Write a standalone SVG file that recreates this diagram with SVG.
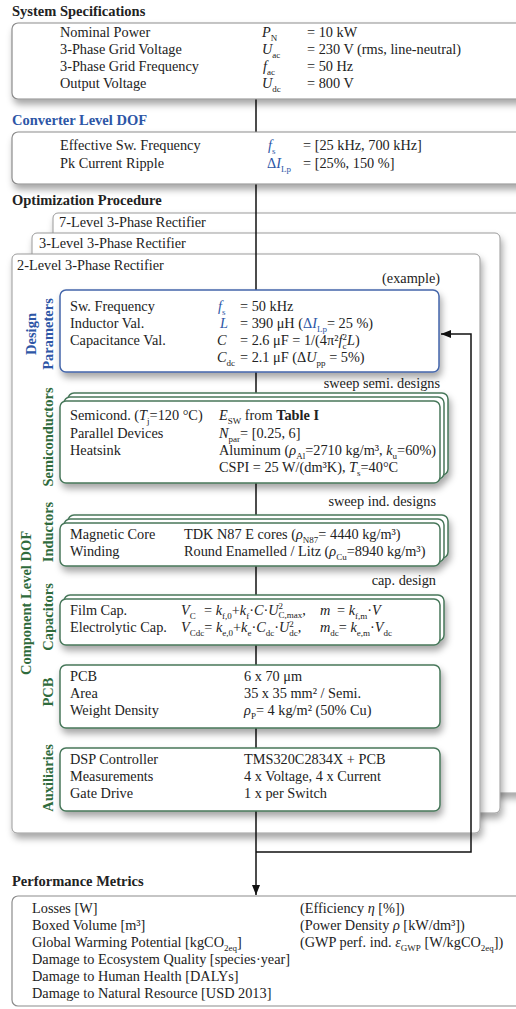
<svg xmlns="http://www.w3.org/2000/svg" width="516" height="1009" viewBox="0 0 516 1009">
<style>
.t{font-family:"Liberation Serif","Times New Roman",serif;font-size:14.3px;fill:#222}
.h{font-weight:bold;font-size:14.5px}
.v{font-weight:bold;font-size:14.5px}
.i{font-style:italic}
.s{font-size:9px;font-style:normal}
.blue{fill:#2d56a6}
.green{fill:#2f6b3c}
.box{fill:#fff;stroke:#8c8c8c;stroke-width:1.2}
.rect{fill:#fff;stroke:#9a9a9a;stroke-width:1}
.dbox{fill:#fff;stroke:#4466aa;stroke-width:1.5}
.gbox{fill:#fff;stroke:#47775a;stroke-width:1.5}
.ln{fill:none;stroke:#111;stroke-width:1.5}
</style>
<defs>
<filter id="sh" x="-5%" y="-10%" width="115%" height="135%">
<feDropShadow dx="2" dy="5" stdDeviation="3.5" flood-color="#000" flood-opacity="0.35"/>
</filter>
<marker id="arr" viewBox="0 0 10 10" refX="10" refY="5" markerWidth="10" markerHeight="10" orient="auto" markerUnits="userSpaceOnUse">
<path d="M0,1 L10,5 L0,9 z" fill="#111"/>
</marker>
</defs>
<rect width="516" height="1009" fill="#fff"/>

<g id="rectifier-7level">
<rect class="rect" x="53" y="213" width="480" height="580" rx="5" filter="url(#sh)"/>
<text class="t" x="59" y="227">7-Level 3-Phase Rectifier</text>
</g>
<g id="rectifier-3level">
<rect class="rect" x="32" y="233" width="468" height="580" rx="5" filter="url(#sh)"/>
<text class="t" x="39" y="248">3-Level 3-Phase Rectifier</text>
</g>
<g id="rectifier-2level">
<rect class="rect" x="12" y="254" width="468" height="579" rx="5" filter="url(#sh)"/>
<text class="t" x="17" y="270">2-Level 3-Phase Rectifier</text>
<text class="t" x="440" y="283" text-anchor="end">(example)</text>
<text class="t v green" transform="translate(31,603) rotate(-90)" text-anchor="middle">Component Level DOF</text>
<text class="t" x="440" y="388" text-anchor="end">sweep semi. designs</text>
<text class="t" x="436" y="506" text-anchor="end">sweep ind. designs</text>
<text class="t" x="436" y="585" text-anchor="end">cap. design</text>
</g>

<g id="connectors">
<path class="ln" d="M256,95 V895" marker-end="url(#arr)"/>
<path class="ln" d="M256,852 H471 V334 H441" marker-end="url(#arr)"/>
</g>

<g id="system-specs">
<text class="t h" x="12" y="16">System Specifications</text>
<rect class="box" x="12" y="23" width="530" height="76" rx="6" filter="url(#sh)"/>
<text class="t" x="60" y="37">Nominal Power</text>
<text class="t" x="60" y="54">3-Phase Grid Voltage</text>
<text class="t" x="60" y="71">3-Phase Grid Frequency</text>
<text class="t" x="60" y="88">Output Voltage</text>
<text class="t i" x="262" y="37">P<tspan class="s" dy="3.5">N</tspan></text>
<text class="t i" x="262" y="54">U<tspan class="s" dy="3.5">ac</tspan></text>
<text class="t i" x="263" y="71">f<tspan class="s" dy="3.5">ac</tspan></text>
<text class="t i" x="262" y="88">U<tspan class="s" dy="3.5">dc</tspan></text>
<text class="t" x="307" y="37">= 10 kW</text>
<text class="t" x="307" y="54">= 230 V (rms, line-neutral)</text>
<text class="t" x="307" y="71">= 50 Hz</text>
<text class="t" x="307" y="88">= 800 V</text>
</g>

<g id="converter-dof">
<text class="t h blue" x="12" y="125">Converter Level DOF</text>
<rect class="box" x="12" y="132" width="530" height="52" rx="6" filter="url(#sh)"/>
<text class="t" x="60" y="150">Effective Sw. Frequency</text>
<text class="t" x="60" y="168">Pk Current Ripple</text>
<text class="t i blue" x="268" y="150">f<tspan class="s" dy="3.5">s</tspan></text>
<text class="t blue" x="267" y="168">Δ<tspan class="i">I</tspan><tspan class="s" dy="3.5">Lp</tspan></text>
<text class="t" x="303" y="150">=  [25 kHz, 700 kHz]</text>
<text class="t" x="303" y="168">=  [25%, 150 %]</text>
</g>

<text class="t h" x="12" y="205">Optimization Procedure</text>

<g id="design-parameters">
<rect class="dbox" x="60" y="290" width="379" height="82" rx="6" filter="url(#sh)"/>
<text class="t v blue" transform="translate(36,334) rotate(-90)" text-anchor="middle">Design</text>
<text class="t v blue" transform="translate(53,334) rotate(-90)" text-anchor="middle">Parameters</text>
<text class="t" x="70" y="311">Sw. Frequency</text>
<text class="t" x="70" y="328">Inductor Val.</text>
<text class="t" x="70" y="345">Capacitance Val.</text>
<text class="t i blue" x="218" y="311">f<tspan class="s" dy="3.5">s</tspan></text>
<text class="t i blue" x="220" y="328">L</text>
<text class="t i" x="217" y="345">C</text>
<text class="t i" x="217" y="362">C<tspan class="s" dy="3.5">dc</tspan></text>
<text class="t" x="240" y="311">= 50 kHz</text>
<text class="t" x="240" y="328">= 390 μH (<tspan class="blue">Δ</tspan><tspan class="blue i">I</tspan><tspan class="s blue" dy="3.5">Lp</tspan><tspan dy="-3.5">= 25 %)</tspan></text>
<text class="t" x="240" y="345">= 2.6 μF = 1/(4π²<tspan class="i">f</tspan><tspan class="s" dy="3.5">c</tspan><tspan class="s" dx="-4" dy="-9">2</tspan><tspan class="i" dy="5.5">L</tspan>)</text>
<text class="t" x="240" y="362">= 2.1 μF (Δ<tspan class="i">U</tspan><tspan class="s" dy="3.5">pp</tspan><tspan dy="-3.5"> = 5%)</tspan></text>
</g>

<g id="semiconductors">
<g filter="url(#sh)">
<rect class="gbox" x="68" y="393" width="380" height="82" rx="6"/>
<rect class="gbox" x="64" y="397" width="380" height="82" rx="6"/>
<rect class="gbox" x="60" y="401" width="380" height="82" rx="6"/>
</g>
<text class="t v green" transform="translate(53,437) rotate(-90)" text-anchor="middle">Semiconductors</text>
<text class="t" x="70" y="420">Semicond. (<tspan class="i">T</tspan><tspan class="s" dy="3.5">j</tspan><tspan dy="-3.5">=120 °C)</tspan></text>
<text class="t" x="70" y="438">Parallel Devices</text>
<text class="t" x="70" y="455">Heatsink</text>
<text class="t" x="219" y="420"><tspan class="i">E</tspan><tspan class="s" dy="3.5">SW</tspan><tspan dy="-3.5"> from </tspan><tspan font-weight="bold">Table I</tspan></text>
<text class="t" x="219" y="438"><tspan class="i">N</tspan><tspan class="s" dy="3.5">par</tspan><tspan dy="-3.5">= [0.25, 6]</tspan></text>
<text class="t" x="219" y="455">Aluminum (<tspan class="i">ρ</tspan><tspan class="s" dy="3.5">Al</tspan><tspan dy="-3.5">=2710 kg/m³, </tspan><tspan class="i">k</tspan><tspan class="s" dy="3.5">u</tspan><tspan dy="-3.5">=60%)</tspan></text>
<text class="t" x="219" y="472">CSPI = 25 W/(dm³K), <tspan class="i">T</tspan><tspan class="s" dy="3.5">s</tspan><tspan dy="-3.5">=40°C</tspan></text>
</g>

<g id="inductors">
<g filter="url(#sh)">
<rect class="gbox" x="68" y="515" width="380" height="43" rx="6"/>
<rect class="gbox" x="64" y="519" width="380" height="43" rx="6"/>
<rect class="gbox" x="60" y="523" width="380" height="43" rx="6"/>
</g>
<text class="t v green" transform="translate(53,532) rotate(-90)" text-anchor="middle">Inductors</text>
<text class="t" x="70" y="539">Magnetic Core</text>
<text class="t" x="70" y="556">Winding</text>
<text class="t" x="184" y="539">TDK N87 E cores (<tspan class="i">ρ</tspan><tspan class="s" dy="3.5">N87</tspan><tspan dy="-3.5">= 4440 kg/m³)</tspan></text>
<text class="t" x="184" y="556">Round Enamelled / Litz (<tspan class="i">ρ</tspan><tspan class="s" dy="3.5">Cu</tspan><tspan dy="-3.5">=8940 kg/m³)</tspan></text>
</g>

<g id="capacitors">
<g filter="url(#sh)">
<rect class="gbox" x="64" y="595" width="380" height="46" rx="6"/>
<rect class="gbox" x="60" y="599" width="380" height="46" rx="6"/>
</g>
<text class="t v green" transform="translate(53,617) rotate(-90)" text-anchor="middle">Capacitors</text>
<text class="t" x="70" y="615">Film Cap.</text>
<text class="t" x="70" y="632">Electrolytic Cap.</text>
<text class="t" x="181" y="615"><tspan class="i">V</tspan><tspan class="s" dy="3.5">C</tspan><tspan x="204" dy="-3.5">= </tspan><tspan class="i">k</tspan><tspan class="s" dy="3.5">f,0</tspan><tspan dy="-3.5">+</tspan><tspan class="i">k</tspan><tspan class="s" dy="3.5">f</tspan><tspan dy="-3.5">·</tspan><tspan class="i">C</tspan><tspan>·</tspan><tspan class="i">U</tspan><tspan class="s" dy="-6">2</tspan><tspan class="s" dx="-4.5" dy="9">C,max</tspan><tspan dy="-3">,</tspan><tspan class="i" x="320">m</tspan><tspan x="337">= </tspan><tspan class="i">k</tspan><tspan class="s" dy="3.5">f,m</tspan><tspan dy="-3.5">·</tspan><tspan class="i">V</tspan></text>
<text class="t" x="181" y="632"><tspan class="i">V</tspan><tspan class="s i" dy="3.5">Cdc</tspan><tspan dy="-3.5">= </tspan><tspan class="i">k</tspan><tspan class="s" dy="3.5">e,0</tspan><tspan dy="-3.5">+</tspan><tspan class="i">k</tspan><tspan class="s" dy="3.5">e</tspan><tspan dy="-3.5">·</tspan><tspan class="i">C</tspan><tspan class="s" dy="3.5">dc</tspan><tspan dy="-3.5">·</tspan><tspan class="i">U</tspan><tspan class="s" dy="-5">2</tspan><tspan class="s" dx="-4.5" dy="8.5">dc</tspan><tspan dy="-3.5">,</tspan><tspan class="i" x="320">m</tspan><tspan class="s i" dy="3.5">dc</tspan><tspan dy="-3.5">= </tspan><tspan class="i">k</tspan><tspan class="s" dy="3.5">e,m</tspan><tspan dy="-3.5">·</tspan><tspan class="i">V</tspan><tspan class="s" dy="3.5">dc</tspan></text>
</g>

<g id="pcb">
<rect class="gbox" x="60" y="665" width="380" height="63" rx="6" filter="url(#sh)"/>
<text class="t v green" transform="translate(53,692) rotate(-90)" text-anchor="middle">PCB</text>
<text class="t" x="70" y="681">PCB</text>
<text class="t" x="70" y="698">Area</text>
<text class="t" x="70" y="715">Weight Density</text>
<text class="t" x="244" y="681">6 x 70 μm</text>
<text class="t" x="244" y="698">35 x 35 mm² / Semi.</text>
<text class="t" x="244" y="715"><tspan class="i">ρ</tspan><tspan class="s" dy="3.5">P</tspan><tspan dy="-3.5">= 4 kg/m² (50% Cu)</tspan></text>
</g>

<g id="auxiliaries">
<rect class="gbox" x="60" y="748" width="380" height="63" rx="6" filter="url(#sh)"/>
<text class="t v green" transform="translate(53,778) rotate(-90)" text-anchor="middle">Auxiliaries</text>
<text class="t" x="70" y="764">DSP Controller</text>
<text class="t" x="70" y="781">Measurements</text>
<text class="t" x="70" y="798">Gate Drive</text>
<text class="t" x="244" y="764">TMS320C2834X + PCB</text>
<text class="t" x="244" y="781">4 x Voltage, 4 x Current</text>
<text class="t" x="244" y="798">1 x per Switch</text>
</g>

<g id="performance-metrics">
<text class="t h" x="12" y="886">Performance Metrics</text>
<rect class="box" x="12" y="896" width="530" height="110" rx="6"/>
<text class="t" x="32" y="913">Losses [W]</text>
<text class="t" x="32" y="930">Boxed Volume [m³]</text>
<text class="t" x="32" y="947">Global Warming Potential [kgCO<tspan class="s" dy="3.5">2eq</tspan><tspan dy="-3.5">]</tspan></text>
<text class="t" x="32" y="964">Damage to Ecosystem Quality [species·year]</text>
<text class="t" x="32" y="981">Damage to Human Health [DALYs]</text>
<text class="t" x="32" y="998">Damage to Natural Resource [USD 2013]</text>
<text class="t" x="300" y="913">(Efficiency <tspan class="i">η</tspan> [%])</text>
<text class="t" x="300" y="930">(Power Density <tspan class="i">ρ</tspan> [kW/dm³])</text>
<text class="t" x="300" y="947">(GWP perf. ind. <tspan class="i">ε</tspan><tspan class="s" dy="3.5">GWP</tspan><tspan dy="-3.5"> [W/kgCO</tspan><tspan class="s" dy="3.5">2eq</tspan><tspan dy="-3.5">])</tspan></text>
</g>
</svg>
